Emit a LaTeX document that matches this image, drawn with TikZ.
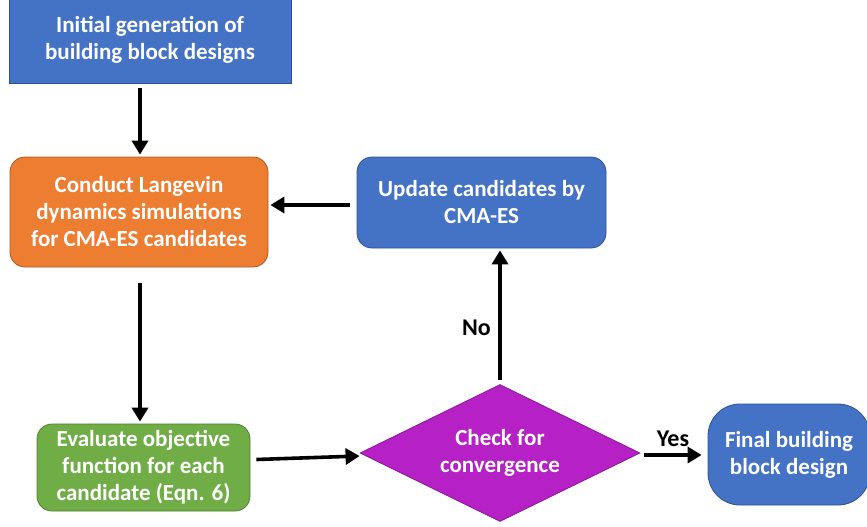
\documentclass[tikz,border=0pt]{standalone}
\usepackage{fontspec}
\setmainfont{Carlito}
\usetikzlibrary{shapes.geometric,arrows.meta,calc}
\definecolor{pblue}{HTML}{4472C4}
\definecolor{pblueedge}{HTML}{2F528F}
\definecolor{porange}{HTML}{ED7D31}
\definecolor{porangeedge}{HTML}{AE5A21}
\definecolor{pgreen}{HTML}{70AD47}
\definecolor{pgreenedge}{HTML}{507E32}
\definecolor{ppurple}{HTML}{B521C4}
\definecolor{ppurpleedge}{HTML}{8A1896}
\tikzset{
  boxtext/.style={text=white, font=\fontsize{23}{27}\selectfont\bfseries, align=center, inner sep=0pt, line width=0.8pt},
  bluebox/.style={boxtext, fill=pblue, draw=pblueedge},
  arr/.style={line width=3.6pt, -{Triangle[length=14pt,width=16pt]}},
  lbl/.style={font=\fontsize{24}{28}\selectfont\bfseries, text=black}
}
\begin{document}
\begin{tikzpicture}[x=1pt,y=-1pt]
\useasboundingbox (0,0) rectangle (867,527);
\node[bluebox, minimum width=282pt, minimum height=86pt] (init) at (150,40) {Initial generation of\\building block designs};
\node[boxtext, fill=porange, draw=porangeedge, rounded corners=15pt, minimum width=258pt, minimum height=110pt] (lang) at (139,212) {Conduct Langevin\\dynamics simulations\\for CMA-ES candidates};
\node[bluebox, rounded corners=15pt, minimum width=249pt, minimum height=91pt] (upd) at (481.5,202.5) {Update candidates by\\CMA-ES};
\node[boxtext, fill=pgreen, draw=pgreenedge, rounded corners=15pt, minimum width=213pt, minimum height=87pt] (eval) at (143.5,467.5) {Evaluate objective\\function for each\\candidate (Eqn. 6)};
\node[boxtext, diamond, fill=ppurple, draw=ppurpleedge, minimum width=280pt, minimum height=137pt, aspect=2.04] (conv) at (500,453) {Check for\\convergence};
\node[bluebox, rounded corners=32pt, minimum width=162pt, minimum height=101pt] (final) at (789,454.5) {Final building\\block design};
\draw[arr] ($(init.south -| lang.north)+(1,5)$) -- ($(lang.north)+(1,-2)$);
\draw[arr] ($(upd.west)+(-7,2.5)$) -- ($(lang.east |- upd.west)+(2,2.5)$);
\draw[arr] ($(lang.south)+(1,16)$) -- ($(lang.south |- eval.north)+(1,-2)$);
\draw[arr] ($(eval.east)+(6,-8)$) -- ($(conv.west)+(0,3)$);
\draw[arr] ($(conv.north)+(0,-4)$) -- node[lbl, left=4pt, pos=0.4] (no) {No} ($(conv.north |- upd.south)+(0,2)$);
\draw[arr] ($(conv.east)+(4,2)$) -- node[lbl, above=3pt] (yes) {Yes} ($(final.west |- conv.east)+(-6,2)$);
\end{tikzpicture}
\end{document}
